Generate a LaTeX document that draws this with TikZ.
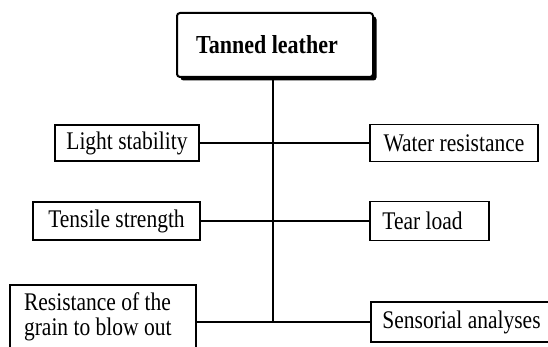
\documentclass[tikz,border=0pt]{standalone}
\usepackage{fontspec}
\setmainfont{Liberation Serif}
\usetikzlibrary{shadows}
\newcommand\vst[1]{\scalebox{1}[1.18]{#1}}
\begin{document}
\begin{tikzpicture}[x=1pt,y=1pt,
  box/.style={draw=black, line width=1.6pt, fill=white, inner sep=0pt,
    font=\fontsize{21.5}{21}\selectfont},
  titlebox/.style={draw=black, line width=2pt, fill=white, rounded corners=3pt, inner sep=0pt,
    minimum width=196pt, minimum height=64pt,
    font=\fontsize{22}{21}\selectfont\bfseries,
    drop shadow={shadow xshift=3.5pt, shadow yshift=-3.5pt, fill=black, opacity=1, rounded corners=3pt}},
  link/.style={line width=1.7pt}]
\useasboundingbox (0,0) rectangle (548,347);
\fill[white] (0,0) rectangle (548,347);
\node[titlebox] (title) at (275,302) {\vst{Tanned leather}\hspace*{16pt}};
\node[box, minimum width=144pt, minimum height=36pt] (light) at (127,204) {\vst{Light stability}};
\node[box, minimum width=168pt, minimum height=37pt] (water) at (454,204) {\vst{Water resistance}};
\node[box, minimum width=167pt, minimum height=38pt] (tensile) at (116.5,126) {\vst{Tensile strength}};
\node[box, minimum width=119pt, minimum height=39pt] (tear) at (429.5,126) {\vst{Tear load}\hspace*{14pt}};
\node[box, minimum width=186pt, minimum height=66pt, anchor=north west] (resist) at (9,63)
  {\vst{\begin{tabular}{@{}l@{}}Resistance of the\\grain to blow out\end{tabular}}\hspace*{10pt}};
\node[box, minimum width=181pt, minimum height=40pt] (sens) at (461.5,25) {\vst{Sensorial analyses}};
\coordinate (bot) at (273,25);
\draw[link] (title.south -| bot) -- (bot);
\draw[link] (light.east) -- (water.west);
\draw[link] (tensile.east) -- (tear.west);
\draw[link] (sens.west) -- (sens.west -| resist.east);
\end{tikzpicture}
\end{document}
